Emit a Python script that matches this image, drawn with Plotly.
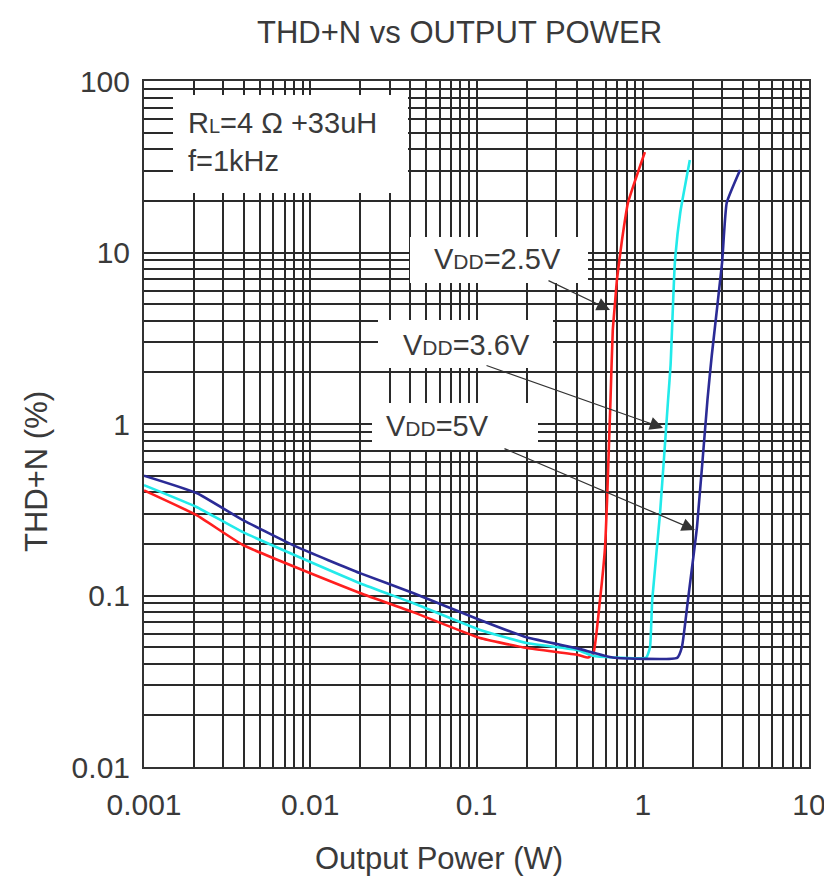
import plotly.graph_objects as go

# ---------------- data ----------------
p_25 = [0.001, 0.00207, 0.00394, 0.0199, 0.0415, 0.105, 0.201, 0.408, 0.47, 0.505,
        0.553, 0.593, 0.61, 0.64, 0.66, 0.68, 0.70, 0.75, 0.815, 1.03]
thd_25 = [0.41, 0.294, 0.197, 0.1035, 0.080, 0.0565, 0.0494, 0.045, 0.0435, 0.046,
          0.094, 0.19, 0.36, 1.4, 3.5, 5.0, 7.0, 11.8, 19.5, 38.5]

p_36 = [0.001, 0.00207, 0.00394, 0.0199, 0.0415, 0.105, 0.2, 0.408, 0.5, 0.66,
        1.05, 1.106, 1.14, 1.27, 1.42, 1.47, 1.56, 1.68, 1.92]
thd_36 = [0.44, 0.328, 0.234, 0.118, 0.0904, 0.063, 0.0528, 0.048, 0.0445, 0.0435,
          0.0435, 0.05, 0.094, 0.30, 1.38, 2.2, 8.7, 17.0, 34.6]

p_5 = [0.001, 0.00207, 0.00394, 0.0083, 0.0199, 0.0415, 0.105, 0.2, 0.408, 0.66,
       1.61, 1.72, 1.87, 2.12, 2.45, 2.6, 3.0, 3.2, 3.85]
thd_5 = [0.50, 0.396, 0.275, 0.192, 0.135, 0.1035, 0.072, 0.057, 0.049, 0.0435,
         0.0433, 0.05, 0.094, 0.251, 1.38, 2.5, 8.7, 19.5, 30.3]

x_ticks = [0.001, 0.01, 0.1, 1, 10]
x_labels = ["0.001", "0.01", "0.1", "1", "10"]
y_ticks = [0.01, 0.1, 1, 10, 100]
y_labels = ["0.01", "0.1", "1", "10", "100"]

FONT = "Liberation Sans, Arial, sans-serif"
TXT = "#3a3a3a"
FS = 30

def minor_vals(lo_exp, hi_exp):
    vals = []
    for e in range(lo_exp, hi_exp):
        for m in range(2, 10):
            vals.append(m * 10 ** e)
    return vals

fig = go.Figure()
fig.add_trace(go.Scatter(x=p_25, y=thd_25, mode="lines", name="VDD=2.5V",
                         line=dict(color="#ff1f1f", width=2.6, shape="spline", smoothing=0.4)))
fig.add_trace(go.Scatter(x=p_36, y=thd_36, mode="lines", name="VDD=3.6V",
                         line=dict(color="#22eaea", width=2.6, shape="spline", smoothing=0.4)))
fig.add_trace(go.Scatter(x=p_5, y=thd_5, mode="lines", name="VDD=5V",
                         line=dict(color="#2b2b96", width=2.6, shape="spline", smoothing=0.4)))

grid_col = "#2a2a2a"
fig.update_xaxes(type="log", range=[-3, 1], tickvals=x_ticks, ticktext=x_labels,
                 automargin=False,
                 showgrid=True, gridcolor=grid_col, gridwidth=2,
                 minor=dict(tickmode="array", tickvals=minor_vals(-3, 1), showgrid=True,
                            gridcolor=grid_col, gridwidth=2, ticks=""),
                 ticks="outside", ticklen=10, tickcolor="rgba(0,0,0,0)",
                 showline=True, mirror=True, linecolor="#333", linewidth=2,
                 zeroline=False, tickfont=dict(family=FONT, size=FS, color=TXT))
fig.update_yaxes(type="log", range=[-2, 2], tickvals=y_ticks, ticktext=y_labels,
                 automargin=False,
                 showgrid=True, gridcolor=grid_col, gridwidth=2,
                 minor=dict(tickmode="array", tickvals=minor_vals(-2, 2), showgrid=True,
                            gridcolor=grid_col, gridwidth=2, ticks=""),
                 ticks="outside", ticklen=6, tickcolor="rgba(0,0,0,0)",
                 showline=True, mirror=True, linecolor="#333", linewidth=2,
                 zeroline=False, tickfont=dict(family=FONT, size=FS, color=TXT))

# plot-area geometry in page pixels (page body has an 8px margin)
OFF = 8
L, R, T, B = 144, 809, 81, 767
W, H = R - L, B - T
def px(x): return (x - L) / W
def py(y): return (B - y) / H

boxes = [(173, 95, 408, 193), (410, 237, 588, 283), (378, 320, 553, 368), (372, 403, 538, 450)]
shapes = []
for x0, y0, x1, y1 in boxes:
    shapes.append(dict(type="rect", xref="paper", yref="paper", x0=px(x0), x1=px(x1),
                       y0=py(y1), y1=py(y0), fillcolor="white", line=dict(width=0),
                       layer="above"))

def text_ann(text, x, y, size, **kw):
    d = dict(text=text, xref="paper", yref="paper", x=px(x), y=py(y),
             xanchor="center", yanchor="middle", showarrow=False,
             font=dict(family=FONT, size=size, color=TXT))
    d.update(kw)
    return d

ann = []
ann.append(text_ann("R<span style='font-size:20px'>L</span>=4 Ω +33uH<br>f=1kHz",
                    186, 142, FS - 1, xanchor="left", align="left"))
def vdd(v): return "V<span style='font-size:21px'>DD</span>=" + v
ann.append(text_ann(vdd("2.5V"), 497, 259, FS - 1))
ann.append(text_ann(vdd("3.6V"), 466, 345, FS - 1))
ann.append(text_ann(vdd("5V"), 437, 426, FS - 1))

# arrows (tips at curves, tails at labels)
arrows = [(-0.197, 0.665, -63, -30), (0.122, -0.023, -178, -63), (0.314, -0.618, -192, -82)]
for xt, yt, ax, ay in arrows:
    ann.append(dict(x=xt, y=yt, xref="x", yref="y", ax=ax, ay=ay, text="",
                    showarrow=True, arrowhead=2, arrowsize=2.2, arrowwidth=1.2,
                    arrowcolor="#333"))

ann.append(text_ann("THD+N vs OUTPUT POWER", 459, 32, 31))
ann.append(text_ann("Output Power (W)", 439, 858, 31))
ann.append(text_ann("THD+N (%)", 37, 472, 31, textangle=-90))

fig.update_layout(width=832 - OFF, height=882 - OFF,
                  margin=dict(l=L - OFF, r=832 - R, t=T - OFF, b=882 - B),
                  paper_bgcolor="white", plot_bgcolor="white", showlegend=False,
                  shapes=shapes, annotations=ann)

fig.write_html("out.html")
